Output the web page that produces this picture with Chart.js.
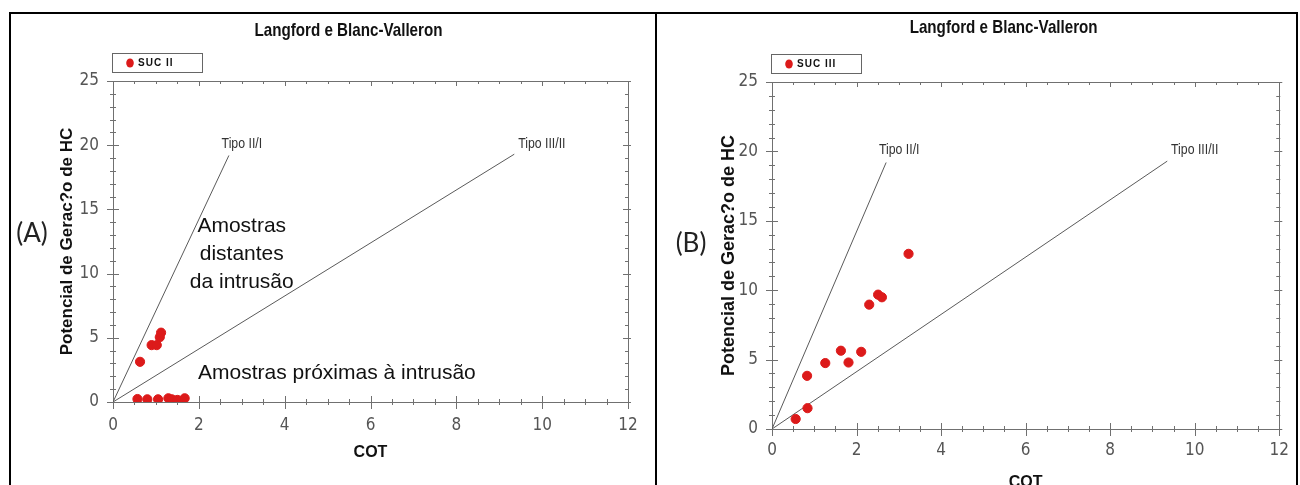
<!DOCTYPE html>
<html>
<head>
<meta charset="utf-8">
<script src="https://cdn.jsdelivr.net/npm/chart.js@4.4.1/dist/chart.umd.min.js"></script>
<style>
  html, body { margin: 0; padding: 0; background: #fff; overflow: hidden; }
  #frame { position: absolute; left: 9px; top: 12px; width: 1285px; height: 500px; border: 2px solid #000; border-bottom: none; }
  #sep { position: absolute; left: 655px; top: 12px; width: 2px; height: 480px; background: #000; }
  canvas { position: absolute; }
</style>
</head>
<body>
<div id="frame"></div>
<div id="sep"></div>
<canvas id="chartA" width="644" height="471" style="left:11px;top:14px"></canvas>
<canvas id="chartB" width="643" height="490" style="left:657px;top:14px"></canvas>
<script>
// values
const cotA = [0.57, 0.80, 1.05, 1.29, 1.37, 1.50, 1.67, 0.63, 0.90, 1.02, 1.09, 1.12];
const hcA  = [0.23, 0.21, 0.21, 0.29, 0.21, 0.16, 0.29, 3.13, 4.43, 4.43, 5.05, 5.40];
const cotB = [0.56, 0.84, 0.83, 1.26, 1.63, 1.81, 2.11, 2.30, 2.51, 2.60, 3.23];
const hcB  = [0.72, 1.50, 3.83, 4.75, 5.64, 4.79, 5.56, 8.96, 9.68, 9.49, 12.62];

// boundary lines (start, end)
const tipoIIcot = [0, 2.7];
const tipoIIhc = [0, 19.2];
const tipoIIIcot = [0, 9.35];
const tipoIIIhc = [0, 19.3];

const xTicks = [0, 2, 4, 6, 8, 10, 12];
const yTicks = [0, 5, 10, 15, 20, 25];

const chartTitle = 'Langford e Blanc-Valleron';
const xTitle = 'COT';
const yTitle = 'Potencial de Gerac?o de HC';
const lineNames = ['Tipo II/I', 'Tipo III/II'];
const seriesNames = ['SUC II', 'SUC III'];
const panelNames = ['(A)', '(B)'];
const notesFar = ['Amostras', 'distantes', 'da intrusão'];
const noteNear = 'Amostras próximas à intrusão';

const NARROW = '"DejaVu Sans Condensed", "Liberation Sans", sans-serif';
const SANS = '"Liberation Sans", Arial, sans-serif';
const RED = '#dc1a1a';
const AXIS = '#707070';

const toPts = (xs, ys) => xs.map((x, i) => ({x: x, y: ys[i]}));

function line(ctx, x1, y1, x2, y2) {
    ctx.beginPath(); ctx.moveTo(x1, y1); ctx.lineTo(x2, y2); ctx.stroke();
}

// Arial Narrow look-alike: squeeze Liberation Sans horizontally
function narrowText(ctx, text, x, y, align, sx) {
    ctx.save();
    ctx.translate(x, y);
    ctx.scale(sx || 0.82, 1);
    ctx.textAlign = align;
    ctx.fillText(text, 0, 0);
    ctx.restore();
}

// frame box with crossing ticks on bottom/left and inner ticks on top/right
const frameTicks = {
    id: 'frameTicks',
    beforeDatasetsDraw(chart) {
        const {ctx, chartArea: a, scales: {x, y}} = chart;
        ctx.save();
        ctx.strokeStyle = AXIS;
        ctx.lineWidth = 1;
        ctx.strokeRect(Math.round(a.left) + .5, Math.round(a.top) + .5, Math.round(a.right - a.left), Math.round(a.bottom - a.top));
        for (let v = 0; v <= 12.001; v += 0.5) {
            const px = Math.round(x.getPixelForValue(v)) + .5, major = Math.abs(v % 2) < 1e-6;
            line(ctx, px, a.bottom - (major ? 6 : 3), px, a.bottom + (major ? 7 : 3));
            line(ctx, px, a.top, px, a.top + (major ? 5 : 3));
        }
        for (let v = 0; v <= 25; v += 1) {
            const py = Math.round(y.getPixelForValue(v)) + .5, major = v % 5 == 0;
            line(ctx, a.left - (major ? 6 : 3), py, a.left + (major ? 6 : 3), py);
            line(ctx, a.right - (major ? 5 : 3), py, a.right + (major ? 3 : 1), py);
        }
        ctx.restore();
    }
};

// titles, legend box, line names and notes
const decor = {
    id: 'decor',
    afterDraw(chart) {
        const o = chart.options.plugins.decor;
        const {ctx, chartArea: a, scales: {x, y}} = chart;
        ctx.save();
        ctx.fillStyle = '#111';
        ctx.textBaseline = 'middle';

        ctx.font = 'bold 18.5px ' + SANS;
        narrowText(ctx, chartTitle, (a.left + a.right) / 2 - 22, o.titleY, 'center');

        // legend
        const lx = a.left - 1, ly = a.top - 28;
        ctx.strokeStyle = '#666';
        ctx.lineWidth = 1;
        ctx.strokeRect(Math.round(lx) + .5, Math.round(ly) + .5, 90, 19);
        ctx.fillStyle = RED;
        ctx.beginPath(); ctx.ellipse(lx + 18, ly + 10, 3.8, 4.5, 0, 0, Math.PI * 2); ctx.fill();
        ctx.fillStyle = '#111';
        ctx.textAlign = 'left';
        ctx.font = 'bold 10px ' + SANS;
        ctx.letterSpacing = '1px';
        ctx.fillText(o.series, lx + 26, ly + 10.5);
        ctx.letterSpacing = '0px';

        // panel name
        ctx.font = '26px Lato, "Open Sans", sans-serif';
        ctx.textAlign = 'center';
        ctx.fillStyle = '#222';
        ctx.fillText(o.panel, a.left - 81, o.panelY);

        // boundary line names
        ctx.font = '15px ' + SANS;
        ctx.fillStyle = '#333';
        narrowText(ctx, lineNames[0], x.getPixelForValue(2.53), y.getPixelForValue(20.1), 'left');
        narrowText(ctx, lineNames[1], x.getPixelForValue(9.44), y.getPixelForValue(20.1), 'left');

        if (o.notes) {
            ctx.font = '21px ' + SANS;
            ctx.fillStyle = '#111';
            ctx.textAlign = 'center';
            const cx = x.getPixelForValue(3.0);
            notesFar.forEach((t, i) => ctx.fillText(t, cx, y.getPixelForValue(13.66) + i * 28));
            ctx.textAlign = 'left';
            ctx.fillText(noteNear, x.getPixelForValue(1.98), y.getPixelForValue(2.25));
        }
        ctx.restore();
    }
};

function makePanel(id, cot, hc, p) {
    const tickFont = {family: NARROW, size: 17};
    return new Chart(document.getElementById(id), {
        type: 'scatter',
        data: {
            datasets: [
                {
                    label: p.series,
                    data: toPts(cot, hc),
                    backgroundColor: RED,
                    borderColor: RED,
                    pointRadius: 4.6,
                    pointStyle: 'circle'
                },
                {
                    type: 'line', label: lineNames[0], data: toPts(tipoIIcot, tipoIIhc),
                    borderColor: '#5a5a5a', borderWidth: 1, pointRadius: 0
                },
                {
                    type: 'line', label: lineNames[1], data: toPts(tipoIIIcot, tipoIIIhc),
                    borderColor: '#5a5a5a', borderWidth: 1, pointRadius: 0
                }
            ]
        },
        options: {
            responsive: false,
            animation: false,
            events: [],
            layout: {padding: {left: 0, right: p.padRight, top: p.top, bottom: 0}},
            plugins: {
                legend: {display: false},
                title: {display: false},
                tooltip: {enabled: false},
                decor: {titleY: p.titleY, series: p.series, panel: p.panel, panelY: p.panelY, notes: p.notes}
            },
            scales: {
                x: {
                    type: 'linear', min: 0, max: 12,
                    afterBuildTicks: s => { s.ticks = xTicks.map(v => ({value: v})); },
                    afterFit: s => { s.height = p.xHeight; },
                    grid: {display: false, drawTicks: false},
                    border: {display: false},
                    ticks: {font: tickFont, color: '#555', padding: p.xPad, maxRotation: 0},
                    title: {display: true, text: xTitle, color: '#111', font: {family: SANS, size: 16, weight: 'bold'}, padding: {top: 0, bottom: p.xTitlePad}}
                },
                y: {
                    type: 'linear', min: 0, max: 25,
                    afterBuildTicks: s => { s.ticks = yTicks.map(v => ({value: v})); },
                    afterFit: s => { s.width = p.yWidth; },
                    grid: {display: false, drawTicks: false},
                    border: {display: false},
                    ticks: {font: tickFont, color: '#555', padding: 14},
                    title: {display: true, text: yTitle, color: '#111', font: {family: SANS, size: p.yTitleSize, weight: 'bold'}, padding: {top: p.yTitlePad, bottom: 0}}
                }
            }
        },
        plugins: [frameTicks, decor]
    });
}

makePanel('chartA', cotA, hcA, {
    series: seriesNames[0], panel: panelNames[0], notes: true,
    top: 67, padRight: 27, xHeight: 83, yWidth: 102,
    xPad: 13, xTitlePad: 23, yTitlePad: 46, yTitleSize: 17,
    titleY: 17, panelY: 220
});
makePanel('chartB', cotB, hcB, {
    series: seriesNames[1], panel: panelNames[1], notes: false,
    top: 68, padRight: 12, xHeight: 75, yWidth: 115,
    xPad: 11, xTitlePad: 12, yTitlePad: 61, yTitleSize: 18,
    titleY: 14, panelY: 230
});
</script>
</body>
</html>
